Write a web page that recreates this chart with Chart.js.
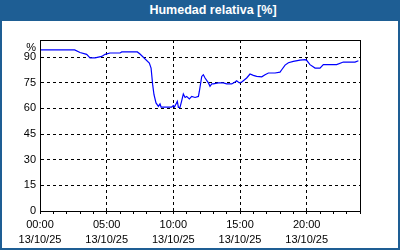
<!DOCTYPE html>
<html>
<head>
<meta charset="utf-8">
<script src="https://cdn.jsdelivr.net/npm/chart.js@4"></script>
<style>
    body { margin: 0; background: #fff; }
    #marco { position: relative; width: 400px; height: 250px; overflow: hidden; }
    #grafica { position: absolute; left: 0; top: 0; }
    #titulo {
        position: absolute; left: 0; top: 0; width: 400px; height: 21px;
        box-sizing: border-box; padding-left: 26px;
        background: #1e5e94; color: #fff; text-align: center;
        font: bold 12.5px "Liberation Sans", Arial, sans-serif; line-height: 21px;
    }
    #borde {
        position: absolute; left: 0; top: 0; width: 400px; height: 250px;
        box-sizing: border-box; border: 2px solid #1e5e94; border-top: 0;
    }
</style>
</head>
<body>
<div id="marco">
    <canvas id="grafica" width="400" height="250"></canvas>
    <div id="borde"></div>
    <div id="titulo">Humedad relativa [%]</div>
</div>
<script>
const titulo = 'Humedad relativa [%]';
const fecha = '13/10/25';
const horasEtiqueta = ['00:00', '05:00', '10:00', '15:00', '20:00'];

// hora del día (h) y humedad (%)
const horas = [
    0.0, 2.6, 3.0, 3.5, 3.75, 4.13, 4.63, 4.88, 5.25, 6.0, 6.13, 7.3, 7.5,
    8.2, 8.33, 8.45, 8.55, 8.7, 8.88, 9.0, 9.08, 9.88, 10.0, 10.08, 10.2,
    10.3, 10.38, 10.5, 10.63, 10.75, 10.88, 11.0, 11.2, 11.38, 11.63, 11.88,
    11.95, 12.13, 12.25, 12.38, 12.63, 12.75, 12.88, 13.0, 13.37, 13.75,
    14.0, 14.38, 14.63, 14.75, 14.95, 15.13, 15.25, 15.5, 15.75, 16.0,
    16.25, 16.63, 16.88, 17.13, 17.63, 18.0, 18.13, 18.38, 18.63, 19.0,
    19.5, 19.88, 20.0, 20.25, 20.63, 21.0, 21.25, 22.25, 22.75, 23.63, 23.88
];
const humedad = [
    94.2, 94.2, 92.7, 91.6, 89.5, 89.5, 90.4, 91.6, 92.4, 92.4, 93.0, 93.0, 91.8,
    86.5, 83.6, 73.9, 68.0, 63.2, 61.2, 62.6, 60.8, 60.8, 61.6, 60.8, 62.6,
    64.1, 60.6, 60.6, 64.5, 68.4, 66.4, 67.0, 65.5, 67.0, 66.4, 67.0,
    69.9, 78.7, 79.7, 77.8, 74.9, 72.9, 74.3, 74.3, 74.9, 74.9,
    74.3, 74.3, 75.4, 76.2, 74.9, 75.4, 76.2, 77.8, 80.1, 79.3,
    78.7, 78.5, 79.7, 80.7, 80.7, 81.2, 82.6, 85.3, 86.7, 87.5,
    88.2, 88.5, 88.1, 85.6, 83.6, 83.6, 85.6, 85.6, 87.1, 87.1, 87.9
];

const puntos = horas.map((h, i) => ({ x: h, y: humedad[i] }));
const fuente = { family: '"Liberation Sans", Arial, sans-serif', size: 11, lineHeight: 1.4 };

// marco negro alrededor del área de trazado
const marcoArea = {
    id: 'marcoArea',
    afterDraw(chart) {
        const a = chart.chartArea;
        const ctx = chart.ctx;
        ctx.save();
        ctx.strokeStyle = '#000';
        ctx.lineWidth = 1;
        ctx.strokeRect(Math.round(a.left) + 0.5, Math.round(a.top) + 0.5,
            Math.round(a.right - a.left), Math.round(a.bottom - a.top));
        ctx.restore();
    }
};

const ctx = document.getElementById('grafica').getContext('2d');
new Chart(ctx, {
    type: 'line',
    data: {
        datasets: [{
            label: titulo,
            data: puntos,
            borderColor: '#0000ff',
            borderWidth: 1.2,
            pointRadius: 0,
            tension: 0,
            fill: false
        }]
    },
    options: {
        responsive: false,
        animation: false,
        layout: { padding: { top: 40, right: 40, left: 0, bottom: 0 } },
        plugins: {
            legend: { display: false },
            title: { display: false },
            tooltip: { enabled: false }
        },
        scales: {
            x: {
                type: 'linear',
                min: 0,
                max: 24,
                afterFit: (s) => { s.height = 39; },
                ticks: {
                    stepSize: 1,
                    autoSkip: false,
                    maxRotation: 0,
                    padding: 3,
                    color: '#000',
                    font: fuente,
                    callback: (v) => (v % 5 === 0 && v < 24) ? [horasEtiqueta[v / 5], fecha] : ''
                },
                grid: {
                    color: (c) => (c.tick && c.tick.value % 5 === 0) ? '#000' : 'rgba(0,0,0,0)',
                    tickColor: '#000',
                    tickLength: 3
                },
                border: { color: '#000', dash: [3, 3] }
            },
            y: {
                min: 0,
                max: 100,
                afterFit: (s) => { s.width = 40; },
                ticks: {
                    stepSize: 15,
                    autoSkip: false,
                    padding: 4,
                    color: '#000',
                    font: fuente,
                    // la unidad va justo debajo del borde superior
                    callback: (v) => v === 100 ? ['', '%'] : v
                },
                grid: { color: '#000', drawTicks: false },
                border: { color: '#000', dash: [3, 3] }
            }
        }
    },
    plugins: [marcoArea]
});
</script>
</body>
</html>
